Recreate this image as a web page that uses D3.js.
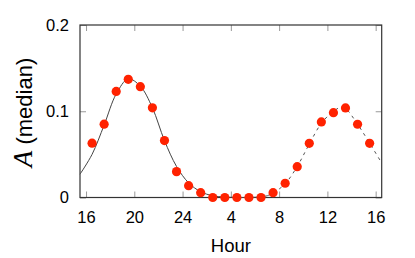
<!DOCTYPE html>
<meta charset="utf-8">
<style>
body { margin:0; background:#fff; }
text { font-family: "Liberation Sans", Arial, sans-serif; fill:#000; }
.frame { fill:none; stroke:#333; stroke-width:1.2px; }
.tick line { stroke:#999; }
</style>
<body>
<script src="https://d3js.org/d3.v7.min.js"></script>
<script>

// measured medians (hour of day, continuous 16..40)
var hours = [16.5,17.5,18.5,19.5,20.5,21.5,22.5,23.5,24.5,25.5,26.5,27.5,
             28.5,29.5,30.5,31.5,32.5,33.5,34.5,35.5,36.5,37.5,38.5,39.5];
var values = [0.063,0.085,0.123,0.137,0.1285,0.104,0.066,0.030,0.0137,0.0056,0,0,
              0,0,0,0.0056,0.0165,0.0357,0.0628,0.0876,0.0983,0.1038,0.0849,0.0628];

// fitted curve, solid part and dashed part
var fitHoursA = [15.5,16.5,17.5,18.5,19.5,20.5,21.5,22.5,23.5,24.5,25.5,26.5,27.5,28.5,29.5,30.5,31];
var fitValsA  = [0.027,0.050,0.084,0.120,0.1375,0.129,0.104,0.066,0.036,0.017,0.0067,0.002,0.0005,0,0,0.0008,0.002];
var fitHoursB = [31,31.5,32.5,33.5,34.5,35.5,36.5,37.2,37.5,38.5,39.5,40.5];
var fitValsB  = [0.002,0.005,0.016,0.036,0.062,0.086,0.100,0.105,0.1035,0.085,0.063,0.040];

var xTicks = [16,20,24,28,32,36,40];
var xTickLabels = ["16","20","24","4","8","12","16"];
var yTicks = [0,0.1,0.2];
var yTickLabels = ["0","0.1","0.2"];

var W = 415, H = 258;
var m = {left:80, right:33.3, top:25, bottom:60.5};

var svg = d3.select("body").append("svg").attr("width",W).attr("height",H);

var x = d3.scaleLinear().domain([15.5,40.5]).range([m.left, W-m.right]);
var y = d3.scaleLinear().domain([0,0.2]).range([H-m.bottom, m.top]);

// axes, ticks pointing inward on all four sides
svg.append("g").attr("transform","translate(0,"+(H-m.bottom)+")")
	.call(d3.axisBottom(x).tickValues(xTicks).tickSizeInner(-6).tickSizeOuter(0)
		.tickPadding(14).tickFormat((d,i)=>xTickLabels[i]))
	.call(g=>g.select(".domain").remove())
	.selectAll("text").style("font-size","16.5px");
svg.append("g").attr("transform","translate(0,"+m.top+")")
	.call(d3.axisTop(x).tickValues(xTicks).tickSizeInner(-6).tickSizeOuter(0).tickFormat(""))
	.call(g=>g.select(".domain").remove());
svg.append("g").attr("transform","translate("+m.left+",0)")
	.call(d3.axisLeft(y).tickValues(yTicks).tickSizeInner(-6).tickSizeOuter(0)
		.tickPadding(11).tickFormat((d,i)=>yTickLabels[i]))
	.call(g=>g.select(".domain").remove())
	.selectAll("text").style("font-size","16.5px");
svg.append("g").attr("transform","translate("+(W-m.right)+",0)")
	.call(d3.axisRight(y).tickValues(yTicks).tickSizeInner(-6).tickSizeOuter(0).tickFormat(""))
	.call(g=>g.select(".domain").remove());

svg.append("rect").attr("class","frame")
	.attr("x",m.left).attr("y",m.top)
	.attr("width",W-m.left-m.right).attr("height",H-m.top-m.bottom);

var line = d3.line().x(d=>x(d[0])).y(d=>y(d[1])).curve(d3.curveCatmullRom);

svg.append("path").datum(d3.zip(fitHoursA,fitValsA))
	.attr("d",line).attr("fill","none").attr("stroke","#444").attr("stroke-width",1);
svg.append("path").datum(d3.zip(fitHoursB,fitValsB))
	.attr("d",line).attr("fill","none").attr("stroke","#555").attr("stroke-width",1)
	.attr("stroke-dasharray","3,4");

svg.append("g").selectAll("circle").data(d3.zip(hours,values)).join("circle")
	.attr("cx",d=>x(d[0])).attr("cy",d=>y(d[1])).attr("r",4.6)
	.attr("fill","#ff2200");

// labels
svg.append("text").attr("x",(m.left+W-m.right)/2).attr("y",251.5)
	.attr("text-anchor","middle").style("font-size","18.5px").text("Hour");

var yl = svg.append("text").attr("transform","translate(32,112.5) rotate(-90)")
	.attr("text-anchor","middle").style("font-size","22px");
yl.append("tspan").style("font-family","'Liberation Serif', serif").style("font-style","italic")
	.style("font-size","27px").text("A");
yl.append("tspan").text(" (median)");

</script>
</body>
